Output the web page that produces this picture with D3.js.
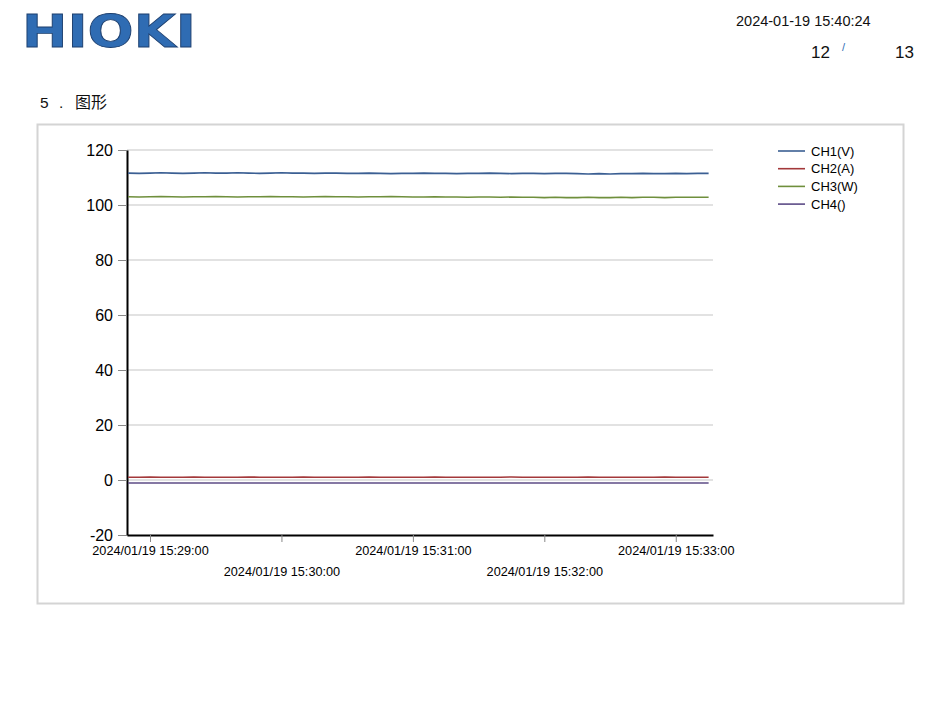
<!DOCTYPE html>
<html>
<head>
<meta charset="utf-8">
<script src="https://cdn.jsdelivr.net/npm/d3@7/dist/d3.min.js"></script>
<style>
  body { margin: 0; background: #fff; }
  text { font-family: Arial, "Liberation Sans", sans-serif; }
</style>
</head>
<body>
<div id="viz"></div>
<script>
// chart data
var seriesNames = ["CH1(V)", "CH2(A)", "CH3(W)", "CH4()"];
var seriesColors = ["#3b5f93", "#a3383a", "#6f8f3c", "#5c4b86"];
var startTime = "2024/01/19 15:28:50", stepSeconds = 5;
var yTicks = [-20, 0, 20, 40, 60, 80, 100, 120];

var ch1 = [111.6,111.5,111.6,111.7,111.6,111.5,111.6,111.7,111.6,111.6,111.7,111.6,111.5,111.6,111.7,111.6,111.6,111.5,
           111.6,111.6,111.5,111.5,111.6,111.5,111.4,111.5,111.5,111.6,111.5,111.5,111.4,111.5,111.5,111.6,111.5,111.4,
           111.5,111.5,111.4,111.5,111.5,111.4,111.3,111.4,111.3,111.4,111.4,111.5,111.4,111.4,111.5,111.4,111.5,111.5];
var ch2 = [1.0,1.0,1.1,1.0,1.0,1.0,1.1,1.0,1.0,1.0,1.0,1.1,1.0,1.0,1.0,1.0,1.1,1.0,
           1.0,1.0,1.0,1.0,1.1,1.0,1.0,1.0,1.0,1.0,1.1,1.0,1.0,1.0,1.0,1.0,1.0,1.1,
           1.0,1.0,1.0,1.0,1.0,1.0,1.1,1.0,1.0,1.0,1.0,1.0,1.0,1.1,1.0,1.0,1.0,1.0];
var ch3 = [103.0,102.9,103.0,103.1,103.0,102.9,103.0,103.0,103.1,103.0,102.9,103.0,103.0,103.1,103.0,103.0,102.9,103.0,
           103.1,103.0,103.0,102.9,103.0,103.0,103.1,103.0,102.9,102.9,103.0,102.9,102.9,102.8,102.9,102.9,102.8,102.9,
           102.8,102.8,102.7,102.8,102.7,102.7,102.8,102.7,102.7,102.8,102.7,102.8,102.8,102.7,102.8,102.8,102.8,102.8];
var ch4 = [-1.1,-1.1,-1.1,-1.1,-1.1,-1.1,-1.1,-1.1,-1.1,-1.1,-1.1,-1.1,-1.1,-1.1,-1.1,-1.1,-1.1,-1.1,
           -1.1,-1.1,-1.1,-1.1,-1.1,-1.1,-1.1,-1.1,-1.1,-1.1,-1.1,-1.1,-1.1,-1.1,-1.1,-1.1,-1.1,-1.1,
           -1.1,-1.1,-1.1,-1.1,-1.1,-1.1,-1.1,-1.1,-1.1,-1.1,-1.1,-1.1,-1.1,-1.1,-1.1,-1.1,-1.1,-1.1];
var allSeries = [ch1, ch2, ch3, ch4];

var parseTime = d3.timeParse("%Y/%m/%d %H:%M:%S");
var fmtTime = d3.timeFormat("%Y/%m/%d %H:%M:%S");
var t0 = parseTime(startTime);

var svg = d3.select("#viz").append("svg")
    .attr("width", 947)
    .attr("height", 720);

// page header
svg.append("text")
    .attr("x", 22).attr("y", 47)
    .attr("textLength", 174).attr("lengthAdjust", "spacingAndGlyphs")
    .style("font-family", "'DejaVu Sans', Arial, sans-serif")
    .style("font-weight", "bold")
    .style("font-size", "45px")
    .attr("fill", "#2f6cb3")
    .attr("stroke", "#1d3f6e").attr("stroke-width", 0.8)
    .text("HIOKI");

svg.append("text").attr("x", 736).attr("y", 26)
    .style("font-size", "14.5px").attr("fill", "#111")
    .text("2024-01-19 15:40:24");
svg.append("text").attr("x", 811).attr("y", 58)
    .style("font-size", "17px").attr("fill", "#111").text("12");
svg.append("text").attr("x", 842).attr("y", 51)
    .style("font-size", "11px").attr("fill", "#2f6cb3").text("/");
svg.append("text").attr("x", 895).attr("y", 58)
    .style("font-size", "17px").attr("fill", "#111").text("13");

svg.append("text").attr("x", 40).attr("y", 108)
    .style("font-size", "15.5px").attr("fill", "#111").text("5");
svg.append("text").attr("x", 59).attr("y", 108)
    .style("font-size", "15.5px").attr("fill", "#111").text(".");
svg.append("text").attr("x", 75).attr("y", 108)
    .style("font-family", "'Noto Sans CJK SC', sans-serif")
    .style("font-size", "16px").attr("fill", "#111").text("图形");

// chart frame
svg.append("rect")
    .attr("x", 37.5).attr("y", 124.5)
    .attr("width", 866).attr("height", 479)
    .attr("fill", "none").attr("stroke", "#d4d4d4").attr("stroke-width", 2);

var plot = {left: 127, right: 713, top: 150, bottom: 535};

var x = d3.scaleTime()
    .domain([d3.timeMillisecond.offset(t0, -500), d3.timeSecond.offset(t0, 267)])
    .range([plot.left, plot.right]);

var y = d3.scaleLinear()
    .domain([-20, 120])
    .range([plot.bottom, plot.top]);

// gridlines
svg.append("g").selectAll("line")
    .data(yTicks.slice(1))
    .enter().append("line")
    .attr("x1", plot.left).attr("x2", plot.right)
    .attr("y1", function(d) { return y(d); })
    .attr("y2", function(d) { return y(d); })
    .attr("stroke", "#d9d9d9").attr("stroke-width", 1.5);

// y axis
var yAxisG = svg.append("g")
    .attr("transform", "translate(" + plot.left + ",0)")
    .call(d3.axisLeft(y).tickValues(yTicks).tickSizeInner(9).tickSizeOuter(0).tickPadding(5)
        .tickFormat(function(d) { return String(d); }));
yAxisG.select(".domain").attr("stroke", "#000").attr("stroke-width", 2);
yAxisG.selectAll(".tick line").attr("stroke", "#888");
yAxisG.selectAll(".tick text")
    .style("font-size", "16px")
    .style("font-family", "Arial, 'Liberation Sans', sans-serif")
    .attr("fill", "#000");

// x axis
var xAxisG = svg.append("g")
    .attr("transform", "translate(0," + plot.bottom + ")")
    .call(d3.axisBottom(x).ticks(d3.timeMinute.every(1)).tickFormat(fmtTime)
        .tickSizeInner(7).tickSizeOuter(0).tickPadding(4));
xAxisG.select(".domain").attr("stroke", "#000").attr("stroke-width", 2);
xAxisG.selectAll(".tick line").attr("stroke", "#888");
xAxisG.selectAll(".tick text")
    .style("font-size", "12.7px")
    .style("font-family", "Arial, 'Liberation Sans', sans-serif")
    .attr("fill", "#000")
    .attr("dy", function(d, i) { return i % 2 === 0 ? "0.71em" : "2.35em"; });

// series lines
var line = d3.line()
    .x(function(d, i) { return x(d3.timeSecond.offset(t0, i * stepSeconds)); })
    .y(function(d) { return y(d); });

svg.append("g").selectAll("path")
    .data(allSeries)
    .enter().append("path")
    .attr("d", line)
    .attr("fill", "none")
    .attr("stroke", function(d, i) { return seriesColors[i]; })
    .attr("stroke-width", 1.6);

// legend
var legend = svg.append("g").selectAll("g")
    .data(seriesNames)
    .enter().append("g")
    .attr("transform", function(d, i) { return "translate(778," + (151 + i * 17.7) + ")"; });
legend.append("line")
    .attr("x1", 0).attr("x2", 27)
    .attr("stroke", function(d, i) { return seriesColors[i]; })
    .attr("stroke-width", 1.6);
legend.append("text")
    .attr("x", 33).attr("dy", "0.36em")
    .style("font-size", "13px")
    .attr("fill", "#000")
    .text(function(d) { return d; });
</script>
</body>
</html>
